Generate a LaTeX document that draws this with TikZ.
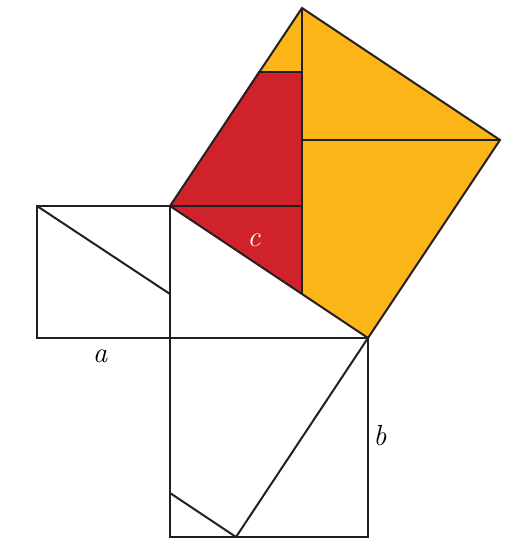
\documentclass[tikz,border=0pt]{standalone}
\usepackage{tikz}
\definecolor{gold}{HTML}{FBB519}
\definecolor{redp}{HTML}{D0222B}
\definecolor{edge}{HTML}{231F20}
\begin{document}
\begin{tikzpicture}[x=1pt,y=-1pt,
  edgeline/.style={draw=edge,line width=2pt,line join=miter},
  lbl/.style={font=\fontsize{29}{31}\selectfont\itshape,inner sep=0pt}]
\useasboundingbox (0,0) rectangle (531,554);
% main vertices
\coordinate (A) at (170,206);   % top of leg a / hypotenuse start
\coordinate (C) at (170,338);   % right angle
\coordinate (B) at (368,338);   % end of hypotenuse
\coordinate (T) at (302,8);     % top of c-square
\coordinate (R) at (500,140);   % right of c-square
% left square
\coordinate (L1) at (37,206);
\coordinate (L2) at (37,338);
\coordinate (LD) at (170,294);
% bottom square
\coordinate (B1) at (170,537);
\coordinate (B2) at (368,537);
\coordinate (BD) at (236,537);
\coordinate (BS) at (170,493);
% inner points of c-square
\coordinate (P) at (302,294);   % on hypotenuse, below T
\coordinate (Q) at (258,72);    % on AT
\coordinate (Q2) at (302,72);
\coordinate (M) at (302,206);
\coordinate (N) at (302,140);
% fills
\fill[gold] (A) -- (B) -- (R) -- (T) -- cycle;
\fill[redp] (Q) -- (Q2) -- (P) -- (A) -- cycle;
% outlines
\draw[edgeline] (A) -- (B) -- (R) -- (T) -- cycle;
\draw[edgeline] (T) -- (P);
\draw[edgeline] (Q) -- (Q2);
\draw[edgeline] (N) -- (R);
\draw[edgeline] (A) -- (M);
\draw[edgeline] (L1) -- (A) -- (C) -- (L2) -- cycle;
\draw[edgeline] (L1) -- (LD);
\draw[edgeline] (C) -- (B) -- (B2) -- (B1) -- cycle;
\draw[edgeline] (B) -- (BD);
\draw[edgeline] (BS) -- (BD);
% labels
\node[lbl] (la) at (100,356) {a};
\node[lbl] (lb) at (380,436) {b};
\node[lbl,text=white] (lc) at (254,240) {c};
\end{tikzpicture}
\end{document}
